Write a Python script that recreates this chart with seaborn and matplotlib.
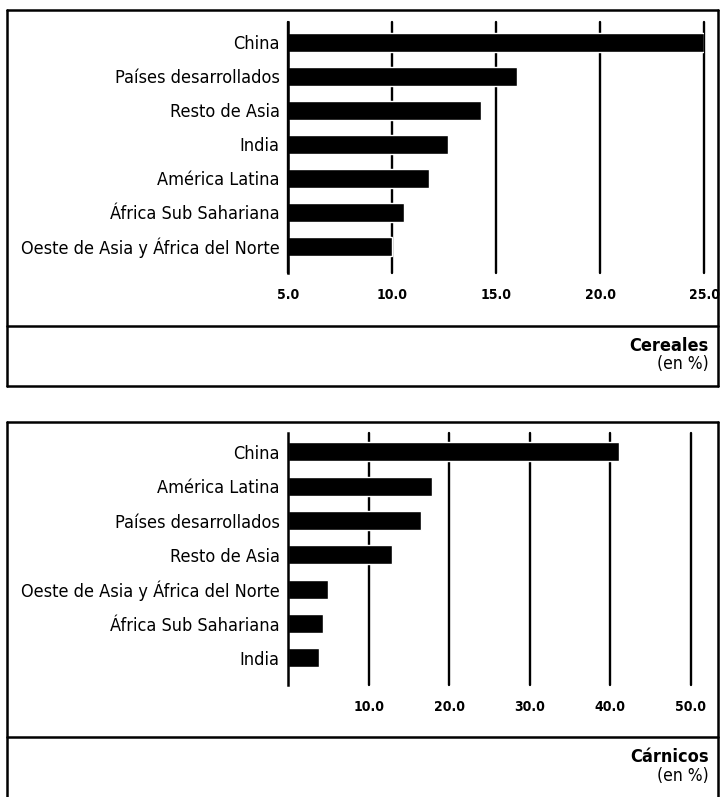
import matplotlib
matplotlib.use('Agg')
import matplotlib.pyplot as plt
from matplotlib.lines import Line2D
import seaborn as sns

# ─── Dane ────────────────────────────────────────────────────────────
cereal_regions = ['China', 'Países desarrollados', 'Resto de Asia', 'India',
                  'América Latina', 'África Sub Sahariana',
                  'Oeste de Asia y África del Norte']
cereal_values = [25.0, 16.0, 14.3, 12.7, 11.8, 10.6, 10.0]
cereal_ticks = [5, 10, 15, 20, 25]
cereal_ticklabels = ['5.0', '10.0', '15.0', '20.0', '25.0']

meat_regions = ['China', 'América Latina', 'Países desarrollados', 'Resto de Asia',
                'Oeste de Asia y África del Norte', 'África Sub Sahariana', 'India']
meat_values = [41.1, 17.9, 16.5, 12.9, 5.0, 4.3, 3.9]
meat_ticks = [10, 20, 30, 40, 50]
meat_ticklabels = ['10.0', '20.0', '30.0', '40.0', '50.0']

# ─── Styl ────────────────────────────────────────────────────────────
sns.set_style('white')
plt.rcParams['font.family'] = ['DejaVu Sans']
plt.rcParams['font.stretch'] = 'condensed'
plt.rcParams['text.color'] = 'black'
plt.rcParams['xtick.color'] = 'black'
plt.rcParams['ytick.color'] = 'black'

W, H = 720, 797
fig = plt.figure(figsize=(W / 100, H / 100), dpi=100)


def fx(px):
    return px / W


def fy(py):
    return 1 - py / H


def box(top, divider, bottom, left=7, right=718, draw_bottom=True):
    """Ramka panelu z poziomą linią podziału."""
    kw = dict(color='black', lw=1.8, transform=fig.transFigure)
    fig.add_artist(Line2D([fx(left), fx(right)], [fy(top), fy(top)], **kw))
    fig.add_artist(Line2D([fx(left), fx(left)], [fy(top), fy(bottom)], **kw))
    fig.add_artist(Line2D([fx(right), fx(right)], [fy(top), fy(bottom)], **kw))
    fig.add_artist(Line2D([fx(left), fx(right)], [fy(divider), fy(divider)], **kw))
    if draw_bottom:
        fig.add_artist(Line2D([fx(left), fx(right)], [fy(bottom), fy(bottom)], **kw))


def panel(regions, values, ticks, ticklabels, xlim, x0, x1, y0, y1, ylim):
    ax = fig.add_axes([fx(x0), fy(y1), fx(x1) - fx(x0), (y1 - y0) / H])
    sns.barplot(x=values, y=regions, color='black', saturation=1,
                width=0.56, ax=ax, orient='h')
    ax.set_xlim(*xlim)
    ax.set_ylim(*ylim)
    ax.set_xticks(ticks)
    ax.set_xticklabels(ticklabels, fontsize=10, fontweight='bold')
    ax.tick_params(axis='x', length=0, pad=11)
    ax.tick_params(axis='y', length=0, pad=6, labelsize=13)
    ax.set_xlabel('')
    ax.set_ylabel('')
    for s in ['top', 'right', 'bottom']:
        ax.spines[s].set_visible(False)
    ax.spines['left'].set_linewidth(1.8)
    ax.spines['left'].set_color('black')
    for t in ticks:
        ax.axvline(t, color='black', lw=1.7, zorder=0, clip_on=False)
    return ax


# ── Cereales
box(10, 326, 386)
panel(cereal_regions, cereal_values, cereal_ticks, cereal_ticklabels,
      (5, 25), 288, 704, 22, 273, (6.79, -0.59))
fig.text(fx(709), fy(346), 'Cereales', ha='right', va='center',
         fontsize=13, fontweight='bold')
fig.text(fx(709), fy(364), '(en %)', ha='right', va='center', fontsize=12.5)

# ── Cárnicos
box(422, 737, 797, draw_bottom=False)
panel(meat_regions, meat_values, meat_ticks, meat_ticklabels,
      (0, 50), 288, 691, 433, 685, (6.79, -0.55))
fig.text(fx(709), fy(757), 'Cárnicos', ha='right', va='center',
         fontsize=13, fontweight='bold')
fig.text(fx(709), fy(776), '(en %)', ha='right', va='center', fontsize=12.5)

fig.savefig('out.png', dpi=100)
plt.close(fig)
